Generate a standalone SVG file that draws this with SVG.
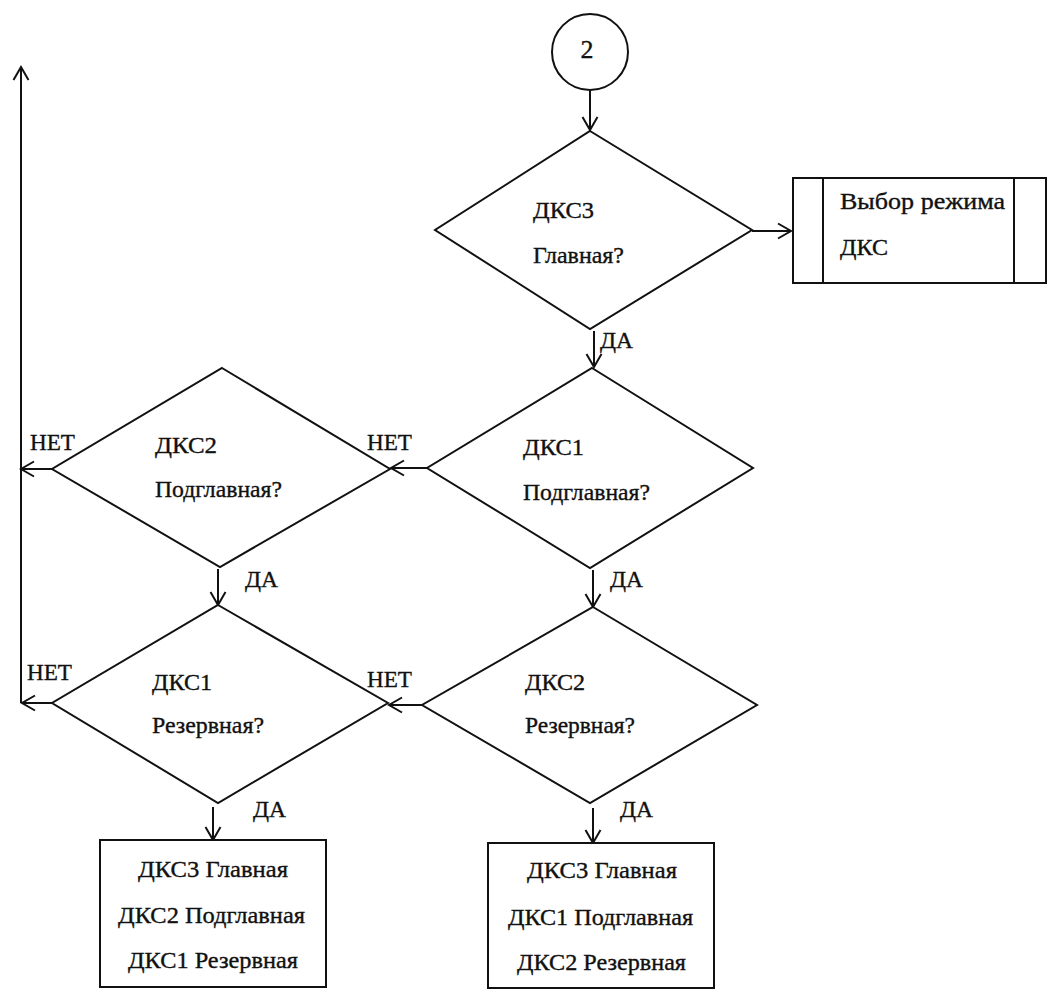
<svg xmlns="http://www.w3.org/2000/svg" width="1048" height="992" viewBox="0 0 1048 992">
  <style>
    .shape { fill: #fff; stroke: #111; stroke-width: 2; }
    .edge { fill: none; stroke: #111; stroke-width: 2; }
    text { font-family: "Liberation Serif", "Times New Roman", serif; font-size: 23px; fill: #111; stroke: #111; stroke-width: 0.35; }
    .mid { text-anchor: middle; }
  </style>
  <defs>
    <marker id="arrow" markerUnits="userSpaceOnUse" markerWidth="16" markerHeight="18" refX="14" refY="9" orient="auto">
      <path d="M1,1.5 L14,9 L1,16.5" fill="none" stroke="#111" stroke-width="2"/>
    </marker>
  </defs>
  <rect width="1048" height="992" fill="#fff"/>

  <!-- connectors -->
  <g id="connectors" class="edge" marker-end="url(#arrow)">
    <line x1="590" y1="90" x2="590" y2="130"/>
    <line x1="752" y1="231" x2="791" y2="231"/>
    <line x1="594" y1="331" x2="594" y2="367"/>
    <line x1="427" y1="468" x2="391" y2="468"/>
    <line x1="52" y1="469" x2="21" y2="469"/>
    <line x1="218" y1="569" x2="218" y2="605"/>
    <line x1="593" y1="570" x2="593" y2="607"/>
    <line x1="422" y1="705" x2="389" y2="705"/>
    <line x1="52" y1="703" x2="22" y2="703"/>
    <line x1="21" y1="703" x2="21" y2="67"/>
    <line x1="213" y1="807" x2="213" y2="840"/>
    <line x1="593" y1="808" x2="593" y2="843"/>
  </g>
  <g id="edge-labels">
    <text x="600" y="348" textLength="33" lengthAdjust="spacingAndGlyphs">ДА</text>
    <text x="367" y="450" textLength="45" lengthAdjust="spacingAndGlyphs">НЕТ</text>
    <text x="30" y="450" textLength="45" lengthAdjust="spacingAndGlyphs">НЕТ</text>
    <text x="245" y="587" textLength="33" lengthAdjust="spacingAndGlyphs">ДА</text>
    <text x="610" y="587" textLength="33" lengthAdjust="spacingAndGlyphs">ДА</text>
    <text x="27" y="680" textLength="45" lengthAdjust="spacingAndGlyphs">НЕТ</text>
    <text x="367" y="687" textLength="45" lengthAdjust="spacingAndGlyphs">НЕТ</text>
    <text x="253" y="817" textLength="33" lengthAdjust="spacingAndGlyphs">ДА</text>
    <text x="620" y="817" textLength="33" lengthAdjust="spacingAndGlyphs">ДА</text>
  </g>

  <!-- connector 2 -->
  <g id="start">
    <circle class="shape" cx="590" cy="52" r="38"/>
    <text class="mid" x="587" y="58" style="font-size:26px">2</text>
  </g>

  <!-- decision: ДКС3 главная -->
  <g id="d-dks3-main">
    <polygon class="shape" points="590,131 752,230 590,329 435,230"/>
    <text x="533" y="218" textLength="61" lengthAdjust="spacingAndGlyphs">ДКС3</text>
    <text x="533" y="263" textLength="91" lengthAdjust="spacingAndGlyphs">Главная?</text>
  </g>

  <!-- predefined process: mode selection -->
  <g id="mode-select">
    <rect class="shape" x="793" y="178" width="253" height="105"/>
    <line class="edge" x1="823" y1="178" x2="823" y2="283"/>
    <line class="edge" x1="1014" y1="178" x2="1014" y2="283"/>
    <text x="840" y="209" textLength="165" lengthAdjust="spacingAndGlyphs">Выбор режима</text>
    <text x="840" y="255" textLength="48" lengthAdjust="spacingAndGlyphs">ДКС</text>
  </g>

  <!-- decision: ДКС1 подглавная -->
  <g id="d-dks1-sub">
    <polygon class="shape" points="592,368 753,468 590,568 427,468"/>
    <text x="523" y="455" textLength="61" lengthAdjust="spacingAndGlyphs">ДКС1</text>
    <text x="523" y="500" textLength="127" lengthAdjust="spacingAndGlyphs">Подглавная?</text>
  </g>

  <!-- decision: ДКС2 подглавная -->
  <g id="d-dks2-sub">
    <polygon class="shape" points="222,368 390,469 220,567 52,469"/>
    <text x="155" y="453" textLength="62" lengthAdjust="spacingAndGlyphs">ДКС2</text>
    <text x="155" y="497" textLength="127" lengthAdjust="spacingAndGlyphs">Подглавная?</text>
  </g>

  <!-- decision: ДКС1 резервная -->
  <g id="d-dks1-reserve">
    <polygon class="shape" points="218,605 388,703 218,803 52,703"/>
    <text x="152" y="690" textLength="60" lengthAdjust="spacingAndGlyphs">ДКС1</text>
    <text x="152" y="733" textLength="112" lengthAdjust="spacingAndGlyphs">Резервная?</text>
  </g>

  <!-- decision: ДКС2 резервная -->
  <g id="d-dks2-reserve">
    <polygon class="shape" points="593,607 757,705 590,803 422,705"/>
    <text x="525" y="690" textLength="60" lengthAdjust="spacingAndGlyphs">ДКС2</text>
    <text x="525" y="733" textLength="110" lengthAdjust="spacingAndGlyphs">Резервная?</text>
  </g>

  <!-- result: 3 / 2 / 1 -->
  <g id="result-left">
    <rect class="shape" x="100" y="840" width="226" height="147"/>
    <text x="138" y="877" textLength="150" lengthAdjust="spacingAndGlyphs">ДКС3 Главная</text>
    <text x="118" y="923" textLength="187" lengthAdjust="spacingAndGlyphs">ДКС2 Подглавная</text>
    <text x="128" y="968" textLength="170" lengthAdjust="spacingAndGlyphs">ДКС1 Резервная</text>
  </g>

  <!-- result: 3 / 1 / 2 -->
  <g id="result-right">
    <rect class="shape" x="488" y="843" width="226" height="145"/>
    <text x="527" y="878" textLength="150" lengthAdjust="spacingAndGlyphs">ДКС3 Главная</text>
    <text x="508" y="925" textLength="185" lengthAdjust="spacingAndGlyphs">ДКС1 Подглавная</text>
    <text x="517" y="970" textLength="169" lengthAdjust="spacingAndGlyphs">ДКС2 Резервная</text>
  </g>
</svg>
